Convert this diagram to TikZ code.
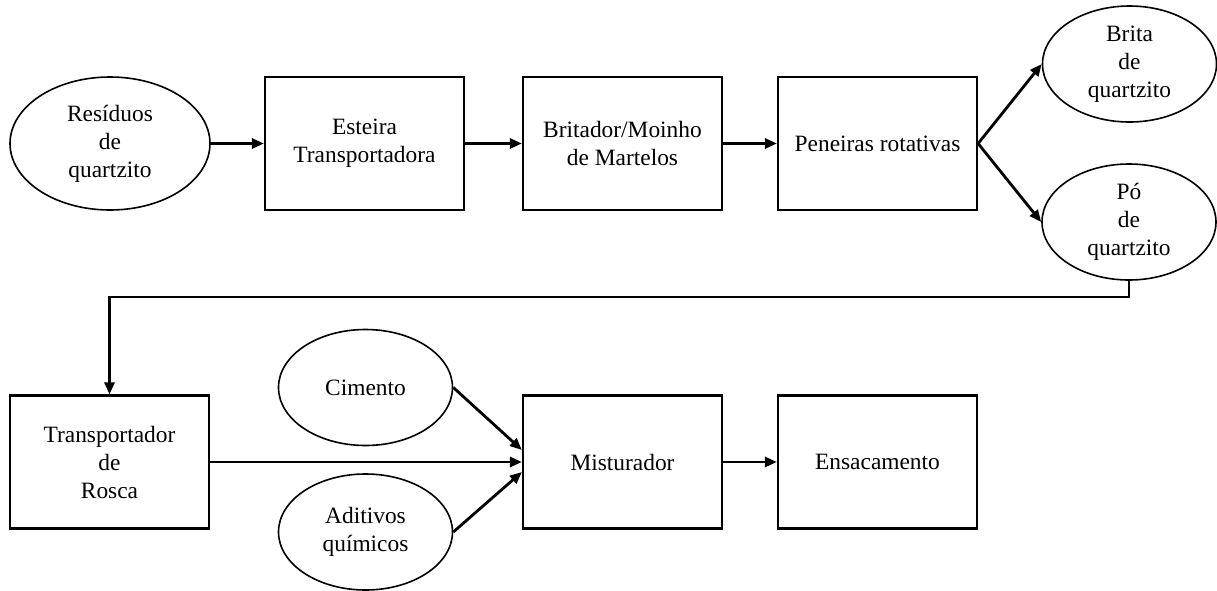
\documentclass[tikz,border=0pt]{standalone}
\usepackage{fontspec}
\setmainfont{Liberation Serif}
\usetikzlibrary{shapes.geometric,arrows.meta,calc}
\begin{document}
\begin{tikzpicture}[x=0.5pt,y=-0.5pt,
  font=\fontsize{11.7pt}{14pt}\selectfont,
  stepbox/.style={draw,line width=1.1pt,minimum width=99.5pt,minimum height=66.5pt,align=center,inner sep=2pt},
  bigoval/.style={draw,ellipse,line width=0.8pt,minimum width=100pt,minimum height=66.5pt,align=center,inner sep=0pt},
  oval/.style={draw,ellipse,line width=0.8pt,minimum width=87pt,minimum height=58pt,align=center,inner sep=0pt},
  flow/.style={line width=1.4pt,-{Triangle[length=6pt,width=5pt]}},
  link/.style={line width=1.2pt}]
\useasboundingbox (0,0) rectangle (1217,590);

% top row
\node[bigoval] (res) at (110,143.5) {Resíduos\\de\\quartzito};
\node[stepbox] (est) at (364.5,143.5) {Esteira\\Transportadora};
\node[stepbox] (bri) at (622.5,143.5) {Britador/Moinho\\de Martelos};
\node[stepbox] (pen) at (877.5,143.5) {Peneiras rotativas};
\node[oval] (brita) at (1129.5,64) {Brita\\de\\quartzito};
\node[oval] (po) at (1129,222) {Pó\\de\\quartzito};

% bottom row
\node[stepbox] (tr) at (109.5,462) {Transportador\\de\\Rosca};
\node[oval] (cim) at (365.5,387.5) {Cimento};
\node[oval] (adi) at (365.5,532) {Aditivos\\químicos};
\node[stepbox] (mix) at (622.5,462) {Misturador};
\node[stepbox] (ens) at (877.5,462) {Ensacamento};

% connectors
\draw[flow] (res) -- (est);
\draw[flow] (est) -- (bri);
\draw[flow] (bri) -- (pen);
\draw[flow] (pen.east) -- (brita.west);
\draw[flow] (pen.east) -- (po.west);
\draw[flow] (po.south) -- (po.south |- 0,297) -| (tr.north);
\draw[link] (tr.east) -- ($(mix.west)+(-6,0)$);
\draw[flow] ($(mix.west)+(-7,0)$) -- (mix.west);
\draw[flow] (cim.east) -- ($(mix.west)+(0,-12)$);
\draw[flow] (adi.east) -- ($(mix.west)+(0,10)$);
\draw[flow] (mix) -- (ens);
\end{tikzpicture}
\end{document}
